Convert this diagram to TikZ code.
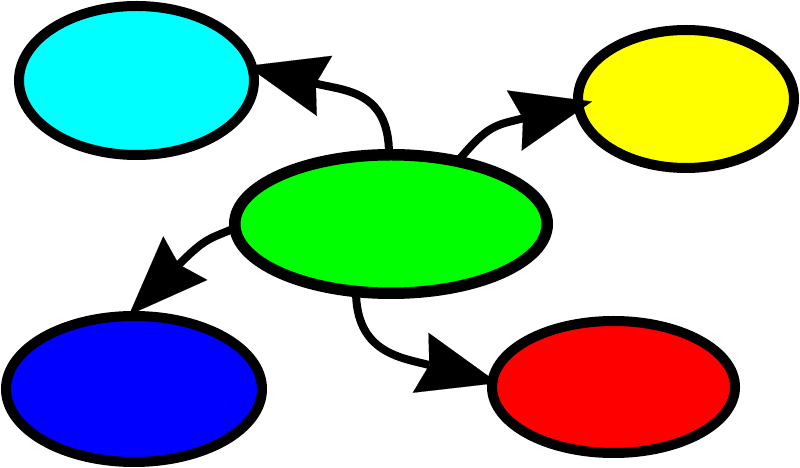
\documentclass[tikz,border=0pt]{standalone}
\usetikzlibrary{arrows.meta,shapes.geometric}
\definecolor{cyanc}{RGB}{0,255,255}
\definecolor{yellowc}{RGB}{255,255,0}
\definecolor{greenc}{RGB}{0,255,0}
\definecolor{bluec}{RGB}{0,0,255}
\definecolor{redc}{RGB}{255,0,0}
\tikzset{
  blob/.style={ellipse, draw=black, line width=10pt, inner sep=0pt, outer sep=0pt},
  arr/.style={draw=black, line width=8pt,
    -{Stealth[length=80pt,width=62pt,inset=9pt,line width=0.1pt]}}
}
\begin{document}
\begin{tikzpicture}[x=1pt,y=1pt]
\useasboundingbox (0,0) rectangle (800,468);
\node[blob, fill=cyanc, minimum width=235pt, minimum height=149pt] (cyan) at (136.5,387.5) {};
\node[blob, fill=yellowc, minimum width=216pt, minimum height=138pt] (yellow) at (686,369) {};
\node[blob, fill=greenc, line width=11.5pt, minimum width=312.5pt, minimum height=138.5pt] (green) at (391,244) {};
\node[blob, fill=bluec, minimum width=256pt, minimum height=146pt] (blue) at (134,79) {};
\node[blob, fill=redc, minimum width=243pt, minimum height=132pt] (red) at (613.5,81) {};
\draw[arr] ([shift={(-2,70)}]green.center) .. controls +(0,64) and +(96.9,-24.8) .. ([shift={(110.5,14.5)}]cyan.center);
\draw[arr] ([shift={(67,63)}]green.center) .. controls +(30,36) and +(-97.1,-23.8) .. ([shift={(-94,-2.5)}]yellow.center);
\draw[arr] ([shift={(-156,-4)}]green.center) .. controls +(-25,-11) and +(77.4,78.2) .. ([shift={(-5,74)}]blue.center);
\draw[arr] ([shift={(-35,-67)}]green.center) .. controls +(0,-62) and +(-96.8,25.3) .. ([shift={(-115.5,4)}]red.center);
\end{tikzpicture}
\end{document}
